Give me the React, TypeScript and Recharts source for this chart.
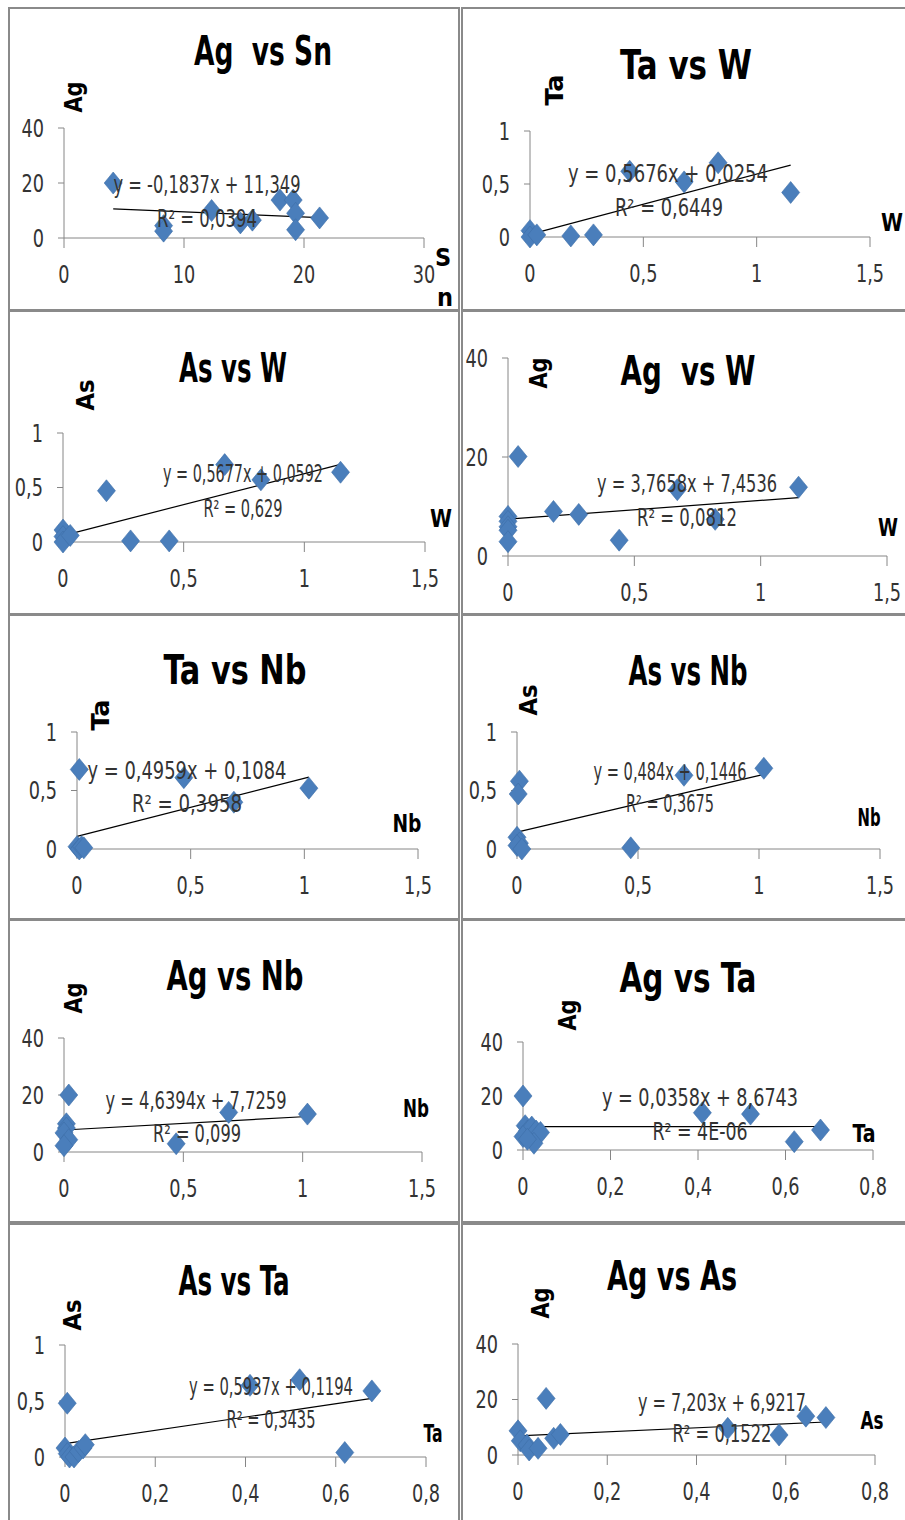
import React from "react";
import { ScatterChart, Scatter, XAxis, YAxis, ReferenceLine } from "recharts";

// ---------- data ----------
const snX1 = [4.1, 8.3, 8.3, 12.3, 14.7, 15.7, 18.0, 19.1, 19.3, 19.3, 21.3];
const agY1 = [20, 4.5, 2.5, 10, 5.5, 6.5, 13.8, 13.8, 9, 3, 7.3];

const wX2 = [0, 0, 0.03, 0.18, 0.28, 0.44, 0.68, 0.83, 1.15];
const taY2 = [0.06, 0.0, 0.02, 0.01, 0.02, 0.62, 0.52, 0.7, 0.42];

const wX3 = [0, 0, 0, 0.03, 0.18, 0.28, 0.44, 0.67, 0.82, 1.15];
const asY3 = [0.11, 0.05, 0.0, 0.06, 0.47, 0.01, 0.01, 0.71, 0.57, 0.64];

const wX4 = [0, 0, 0, 0, 0, 0.04, 0.18, 0.28, 0.44, 0.67, 0.82, 1.15];
const agY4 = [8.0, 7.0, 5.9, 5.2, 2.9, 20.1, 9.0, 8.4, 3.2, 13.4, 7.4, 13.9];

const nbX5 = [0.01, 0, 0.01, 0.02, 0.03, 0.47, 0.69, 1.02];
const taY5 = [0.68, 0.02, 0.0, 0.02, 0.01, 0.61, 0.4, 0.52];

const nbX6 = [0.01, 0.005, 0, 0.01, 0, 0.02, 0.47, 0.69, 1.02];
const asY6 = [0.58, 0.47, 0.1, 0.05, 0.03, 0.0, 0.01, 0.63, 0.69];

const nbX7 = [0.02, 0.01, 0.01, 0, 0.02, 0, 0.47, 0.69, 1.02];
const agY7 = [20, 9.9, 8.4, 6.7, 4.3, 2.2, 2.9, 13.9, 13.3];

const taX8 = [0, 0.005, 0.01, 0.02, 0.03, 0.04, 0, 0.025, 0.01, 0.41, 0.52, 0.62, 0.68];
const agY8 = [20, 9, 7, 8.5, 7, 6.5, 5, 2.5, 4, 13.8, 13.3, 3.1, 7.4];

const taX9 = [0.005, 0, 0.005, 0.01, 0.02, 0.03, 0.04, 0.045, 0.41, 0.52, 0.62, 0.68];
const asY9 = [0.48, 0.08, 0.03, 0.0, 0.0, 0.05, 0.08, 0.11, 0.64, 0.69, 0.04, 0.59];

const asX10 = [0.063, 0, 0.005, 0.02, 0.025, 0.045, 0.08, 0.095, 0.47, 0.585, 0.645, 0.69];
const agY10 = [20.4, 8.7, 5.1, 3.6, 1.8, 2.4, 6, 7.4, 9.6, 7.2, 14, 13.5];

const ticksSn = [0, 10, 20, 30];
const ticks15 = [0, 0.5, 1, 1.5];
const ticks08 = [0, 0.2, 0.4, 0.6, 0.8];
const ticks40 = [0, 20, 40];
const ticks1 = [0, 0.5, 1];

const titles = ["Ag  vs Sn", "Ta vs W", "As vs W", "Ag  vs W", "Ta vs Nb", "As vs Nb", "Ag vs Nb", "Ag vs Ta", "As vs Ta", "Ag vs As"];
const xLabels = ["Sn", "W", "W", "W", "Nb", "Nb", "Nb", "Ta", "Ta", "As"];
const yLabels = ["Ag", "Ta", "As", "Ag", "Ta", "As", "Ag", "Ag", "As", "Ag"];
const slopes = [-0.1837, 0.5676, 0.5677, 3.7658, 0.4959, 0.484, 4.6394, 0.0358, 0.5937, 7.203];
const intercepts = [11.349, 0.0254, 0.0592, 7.4536, 0.1084, 0.1446, 7.7259, 8.6743, 0.1194, 6.9217];
const eqTexts = [
  "y = -0,1837x + 11,349",
  "y = 0,5676x + 0,0254",
  "y = 0,5677x + 0,0592",
  "y = 3,7658x + 7,4536",
  "y = 0,4959x + 0,1084",
  "y = 0,484x + 0,1446",
  "y = 4,6394x + 7,7259",
  "y = 0,0358x + 8,6743",
  "y = 0,5937x + 0,1194",
  "y = 7,203x + 6,9217",
];
const r2Texts = ["R² = 0,0394", "R² = 0,6449", "R² = 0,629", "R² = 0,0812", "R² = 0,3958", "R² = 0,3675", "R² = 0,099", "R² = 4E-06", "R² = 0,3435", "R² = 0,1522"];

const seriesX = [snX1, wX2, wX3, wX4, nbX5, nbX6, nbX7, taX8, taX9, asX10];
const seriesY = [agY1, taY2, asY3, agY4, taY5, asY6, agY7, agY8, asY9, agY10];
const xTickSets = [ticksSn, ticks15, ticks15, ticks15, ticks15, ticks15, ticks15, ticks08, ticks08, ticks08];
const yTickSets = [ticks40, ticks1, ticks1, ticks40, ticks1, ticks1, ticks40, ticks40, ticks1, ticks40];

// ---------- layout (page coordinates) ----------
const boxes = [
  [8, 7, 460, 311], [461, 7, 910, 311],
  [8, 310, 460, 615], [461, 310, 910, 615],
  [8, 614, 460, 920], [461, 614, 910, 920],
  [8, 919, 460, 1223], [461, 919, 910, 1223],
  [8, 1223, 460, 1530], [461, 1223, 910, 1530],
];
const plots = [
  [64, 128, 424, 238], [530, 131, 870, 237],
  [63, 433, 425, 542], [508, 358, 887, 556],
  [77, 732, 418, 849], [517, 732, 880, 849],
  [64, 1038, 422, 1152], [523, 1042, 873, 1150],
  [65, 1345, 426, 1457], [518, 1344, 875, 1455],
];
const titlePos = [
  [263, 50], [686, 64], [233, 367], [688, 370], [235, 669],
  [688, 670], [235, 975], [688, 977], [234, 1280], [672, 1275],
];
const titleLen = [138, 132, 108, 135, 143, 119, 137, 137, 111, 130];
const eqPos = [
  [207, 184], [668, 173], [243, 473], [687, 483], [187, 770],
  [670, 771], [196, 1100], [700, 1097], [271, 1386], [722, 1402],
];
const eqLen = [187, 200, 160, 180, 199, 153, 181, 196, 164, 168];
const r2Pos = [
  [207, 218], [669, 207], [243, 508], [687, 517], [187, 803],
  [670, 803], [197, 1133], [700, 1131], [271, 1419], [722, 1433],
];
const r2Len = [100, 108, 79, 100, 110, 88, 88, 95, 89, 99];
const yLabPos = [
  [73, 97], [554, 90], [85, 395], [538, 373], [100, 715],
  [528, 700], [73, 998], [567, 1015], [72, 1315], [540, 1303],
];
const xLabPos = [
  [444, 277], [892, 222], [441, 518], [888, 527], [407, 823],
  [869, 817], [416, 1108], [864, 1133], [433, 1433], [872, 1420],
];
const xLabLen = [0, 22, 22, 20, 29, 23, 26, 23, 19, 23];

const FONT = "'DejaVu Sans Condensed', 'DejaVu Sans', 'Liberation Sans', sans-serif";
const TEXT = "#333333";
const AXIS = "#868686";
const MARK = "#4A7EBB";
const TICK_FS = 24;
const TICK_SX = 0.82;

const fmt = (v: number) => String(v).replace(".", ",");

const Diamond = (props: any) => {
  const { cx, cy } = props;
  if (cx == null || cy == null) return null;
  const w = 9, h = 11;
  return (
    <polygon
      points={`${cx},${cy - h} ${cx + w},${cy} ${cx},${cy + h} ${cx - w},${cy}`}
      fill={MARK}
      stroke="#3E6FA8"
      strokeWidth={0.6}
    />
  );
};

const XTick = (props: any) => {
  const { x, y, payload } = props;
  return (
    <g transform={`translate(${x},${y})`}>
      <text transform={`scale(${TICK_SX},1)`} textAnchor="middle" dy="0.71em" fill={TEXT} fontSize={TICK_FS} fontFamily={FONT}>
        {fmt(payload.value)}
      </text>
    </g>
  );
};

const YTick = (props: any) => {
  const { x, y, payload } = props;
  return (
    <g transform={`translate(${x},${y})`}>
      <text transform={`scale(${TICK_SX},1)`} textAnchor="end" dy="0.355em" fill={TEXT} fontSize={TICK_FS} fontFamily={FONT}>
        {fmt(payload.value)}
      </text>
    </g>
  );
};

function Panel({ i }: { i: number }) {
  const [bx0, by0, bx1, by1] = boxes[i];
  const [pl, pt, pr, pb] = plots[i];
  const cl = bx0 + 2, ct = by0 + 2;
  const cw = bx1 - 2 - cl, ch = by1 - 2 - ct;
  const xs = seriesX[i], ys = seriesY[i];
  const data = xs.map((x, k) => ({ x, y: ys[k] }));
  const xt = xTickSets[i], yt = yTickSets[i];
  const xMin = Math.min(...xs), xMax = Math.max(...xs);
  const trend = [
    { x: xMin, y: slopes[i] * xMin + intercepts[i] },
    { x: xMax, y: slopes[i] * xMax + intercepts[i] },
  ];
  return (
    <>
      <div
        style={{
          position: "absolute",
          left: bx0,
          top: by0,
          width: bx1 - bx0,
          height: by1 - by0,
          border: "2px solid #8A8A8A",
          boxSizing: "border-box",
          background: "#fff",
        }}
      />
      <div style={{ position: "absolute", left: cl, top: ct }}>
        <ScatterChart
          width={cw}
          height={ch}
          margin={{ top: pt - ct, right: cl + cw - pr, bottom: 0, left: 0 }}
        >
          <XAxis
            type="number"
            dataKey="x"
            domain={[xt[0], xt[xt.length - 1]]}
            ticks={xt}
            interval={0}
            height={ct + ch - pb}
            tick={<XTick />}
            tickSize={10}
            tickMargin={18}
            axisLine={{ stroke: AXIS }}
            tickLine={{ stroke: AXIS }}
          />
          <YAxis
            type="number"
            dataKey="y"
            domain={[yt[0], yt[yt.length - 1]]}
            ticks={yt}
            interval={0}
            width={pl - cl}
            tick={<YTick />}
            tickSize={6}
            tickMargin={14}
            axisLine={{ stroke: AXIS }}
            tickLine={{ stroke: AXIS }}
          />
          <Scatter data={data} shape={Diamond} isAnimationActive={false} />
          <ReferenceLine segment={trend} stroke="#000" strokeWidth={1.2} ifOverflow="visible" />
        </ScatterChart>
      </div>
    </>
  );
}

function Labels({ i }: { i: number }) {
  const T = (x: number, y: number, fs: number, len: number | null, content: string, bold: boolean, color: string) => (
    <text
      x={x}
      y={y + 0.36 * fs}
      textAnchor="middle"
      fontSize={fs}
      fontWeight={bold ? "bold" : "normal"}
      fontFamily={FONT}
      fill={color}
      style={{ whiteSpace: "pre" }}
      {...(len ? { textLength: len, lengthAdjust: "spacingAndGlyphs" } : {})}
    >
      {content}
    </text>
  );
  const [yx, yy] = yLabPos[i];
  return (
    <g>
      {T(titlePos[i][0], titlePos[i][1], 41, titleLen[i], titles[i], true, "#000")}
      <text
        transform={`translate(${yx},${yy}) rotate(-90)`}
        y={0.36 * 25}
        textAnchor="middle"
        fontSize={25}
        fontWeight="bold"
        fontFamily={FONT}
        fill="#000"
        textLength={31}
        lengthAdjust="spacingAndGlyphs"
      >
        {yLabels[i]}
      </text>
      {i === 0 ? (
        <>
          {T(xLabPos[i][0] - 1, xLabPos[i][1] - 20, 25, null, xLabels[i][0], true, "#000")}
          {T(xLabPos[i][0] + 1, xLabPos[i][1] + 20, 25, null, xLabels[i][1], true, "#000")}
        </>
      ) : (
        T(xLabPos[i][0], xLabPos[i][1], 25, xLabLen[i], xLabels[i], true, "#000")
      )}
      {T(eqPos[i][0], eqPos[i][1], 24, eqLen[i], eqTexts[i], false, TEXT)}
      {T(r2Pos[i][0], r2Pos[i][1], 24, r2Len[i], r2Texts[i], false, TEXT)}
    </g>
  );
}

export default function App() {
  return (
    <div
      style={{
        position: "absolute",
        left: 0,
        top: 0,
        width: 905,
        height: 1520,
        overflow: "hidden",
        background: "#fff",
      }}
    >
      {titles.map((_, i) => (
        <Panel key={i} i={i} />
      ))}
      <svg
        width={905}
        height={1520}
        style={{ position: "absolute", left: 0, top: 0, pointerEvents: "none" }}
      >
        {titles.map((_, i) => (
          <Labels key={i} i={i} />
        ))}
      </svg>
    </div>
  );
}
